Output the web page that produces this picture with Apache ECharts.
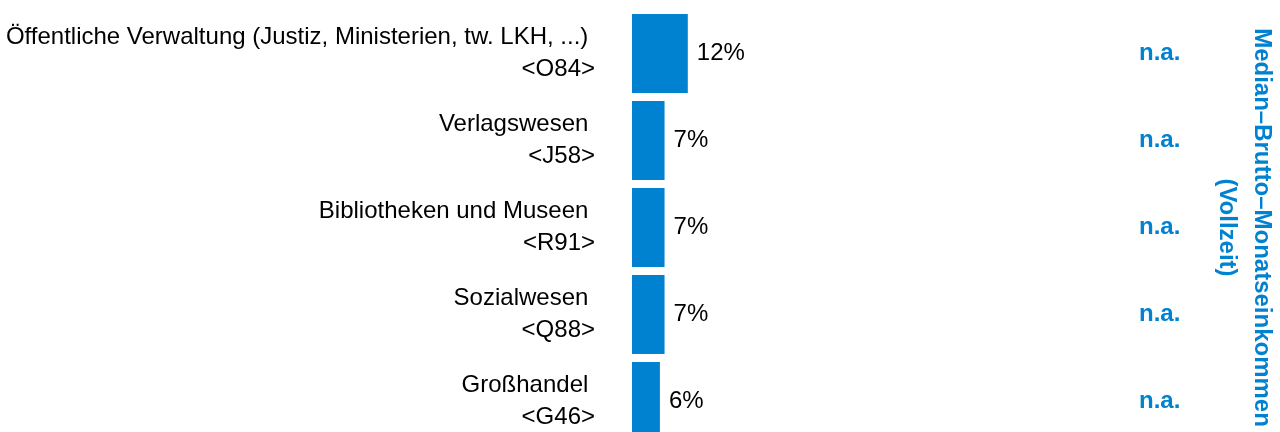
<!DOCTYPE html>
<html>
<head>
<meta charset="utf-8">
<script src="https://cdn.jsdelivr.net/npm/echarts@6/dist/echarts.min.js"></script>
<style>html,body{margin:0;padding:0;background:#fff;overflow:hidden}#c{width:1280px;height:445px}</style>
</head>
<body>
<div id="c"></div>
<script>
const categories = ["Öffentliche Verwaltung (Justiz, Ministerien, tw. LKH, ...)", "Verlagswesen", "Bibliotheken und Museen", "Sozialwesen", "Großhandel"];
const codes = ["<O84>", "<J58>", "<R91>", "<Q88>", "<G46>"];
const values = [12, 7, 7, 7, 6];
const incomeLabels = ["n.a.", "n.a.", "n.a.", "n.a.", "n.a."];
const rightTitle = "Median–Brutto–Monatseinkommen\n(Vollzeit)";

const BLUE = '#0082d1';
const FONT = '"Liberation Sans", Arial, sans-serif';
const chart = echarts.init(document.getElementById('c'));
chart.setOption({
  animation: false,
  grid: { left: 632, top: 10, right: 173, bottom: 0, containLabel: false },
  xAxis: { type: 'value', min: 0, max: 100, show: false },
  yAxis: [
    {
      type: 'category',
      inverse: true,
      data: categories.map((c, i) => c + ' \n' + codes[i]),
      axisLine: { show: false },
      axisTick: { show: false },
      axisLabel: { margin: 37, fontSize: 24, lineHeight: 32, color: '#000', fontFamily: FONT, align: 'right', padding: [5, 0, 0, 0] }
    },
    {
      type: 'category',
      inverse: true,
      position: 'right',
      data: incomeLabels,
      axisLine: { show: false },
      axisTick: { show: false },
      axisLabel: { margin: 42, fontSize: 24, fontWeight: 'bold', color: BLUE, fontFamily: FONT, align: 'left', padding: [10, 0, 0, 0] },
      name: rightTitle,
      nameLocation: 'middle',
      nameRotate: -90,
      nameGap: 112,
      nameTextStyle: { fontSize: 24, fontWeight: 'bold', color: BLUE, fontFamily: FONT, lineHeight: 35 }
    }
  ],
  series: [{
    type: 'bar',
    data: values,
    barWidth: 79,
    itemStyle: { color: BLUE },
    label: { show: true, position: 'right', distance: 9, formatter: '{c}%', fontSize: 24, color: '#000', fontFamily: FONT, padding: [4, 0, 0, 0] }
  }]
});
</script>
</body>
</html>
